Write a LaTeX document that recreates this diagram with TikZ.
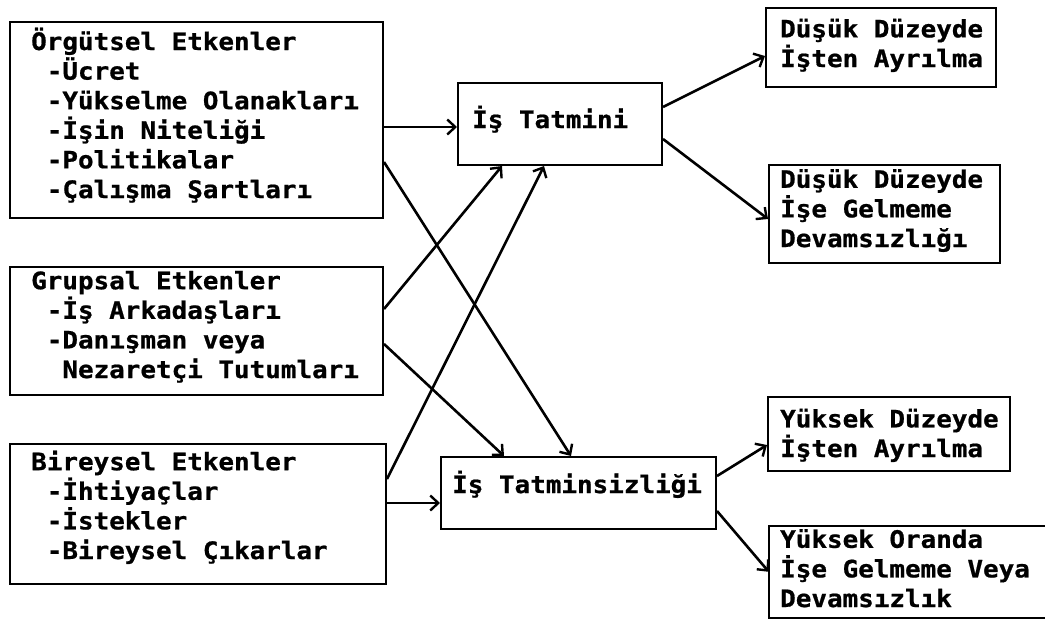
\documentclass[tikz,border=0pt]{standalone}
\usepackage{fontspec}
\newfontfamily\pix{DejaVu Sans Mono}[UprightFont={* Bold},FakeStretch=1.08,FakeBold=0.8]
\usetikzlibrary{arrows.meta}
\begin{document}
\begin{tikzpicture}[x=1pt,y=-1pt,
  box/.style={draw,line width=2pt,rectangle,inner sep=0pt},
  openbox/.style={rectangle,inner sep=0pt},
  txt/.style={inner sep=0pt,anchor=base west,align=left,font=\pix\fontsize{24}{29.6}\selectfont},
  arr/.style={line width=2.6pt,-{Straight Barb[length=8pt,width=15pt,line width=2.4pt]}}]
\useasboundingbox[fill=white] (0,0) rectangle (1045,621);

% boxes
\node[box,minimum width=373pt,minimum height=196pt] (b1) at (196.5,120) {};
\node[box,minimum width=373pt,minimum height=128pt] (b2) at (196.5,331) {};
\node[box,minimum width=376pt,minimum height=140pt] (b3) at (198,514) {};
\node[box,minimum width=204pt,minimum height=82pt] (t1) at (560,124) {};
\node[box,minimum width=275pt,minimum height=72pt] (t2) at (578.5,493) {};
\node[box,minimum width=230pt,minimum height=79pt] (o1) at (881,47.5) {};
\node[box,minimum width=231pt,minimum height=98pt] (o2) at (884.5,214) {};
\node[box,minimum width=242pt,minimum height=74pt] (o3) at (889,434) {};
\node[openbox,minimum width=277pt,minimum height=92pt] (o4) at (907.5,572) {};
\draw[line width=2pt] (o4.north east) -- (o4.north west) -- (o4.south west) -- (o4.south east);

% texts (anchor = baseline of the last line)
\node[txt] (b1t) at (31,198) {Örgütsel Etkenler\\\ -Ücret\\\ -Yükselme Olanakları\\\ -İşin Niteliği\\\ -Politikalar\\\ -Çalışma Şartları};
\node[txt] (b2t) at (31,378) {Grupsal Etkenler\\\ -İş Arkadaşları\\\ -Danışman veya\\\ \ Nezaretçi Tutumları};
\node[txt] (b3t) at (31,559) {Bireysel Etkenler\\\ -İhtiyaçlar\\\ -İstekler\\\ -Bireysel Çıkarlar};
\node[txt] (t1t) at (472,128) {İş Tatmini};
\node[txt] (t2t) at (452,493) {İş Tatminsizliği};
\node[txt] (o1t) at (780,67) {Düşük Düzeyde\\İşten Ayrılma};
\node[txt] (o2t) at (780,247) {Düşük Düzeyde\\İşe Gelmeme\\Devamsızlığı};
\node[txt] (o3t) at (780,457) {Yüksek Düzeyde\\İşten Ayrılma};
\node[txt] (o4t) at (780,607) {Yüksek Oranda\\İşe Gelmeme Veya\\Devamsızlık};

% arrows
\draw[arr] ([yshift=-106pt]b1.north east) -- ([yshift=-45pt]t1.north west);
\draw[arr] ([yshift=-141pt]b1.north east) -- ([xshift=131pt]t2.north west);
\draw[arr] ([yshift=-43pt]b2.north east) -- ([xshift=45pt]t1.south west);
\draw[arr] ([yshift=-78pt]b2.north east) -- ([xshift=64pt]t2.north west);
\draw[arr] ([yshift=-36pt]b3.north east) -- ([xshift=87pt]t1.south west);
\draw[arr] ([yshift=-60pt]b3.north east) -- ([yshift=-47pt]t2.north west);
\draw[arr] ([yshift=-25pt]t1.north east) -- ([yshift=-49pt]o1.north west);
\draw[arr] ([yshift=-57pt]t1.north east) -- ([yshift=-55pt]o2.north west);
\draw[arr] ([yshift=-20pt]t2.north east) -- ([yshift=-49pt]o3.north west);
\draw[arr] ([yshift=-55pt]t2.north east) -- ([yshift=-46pt]o4.north west);
\end{tikzpicture}
\end{document}
